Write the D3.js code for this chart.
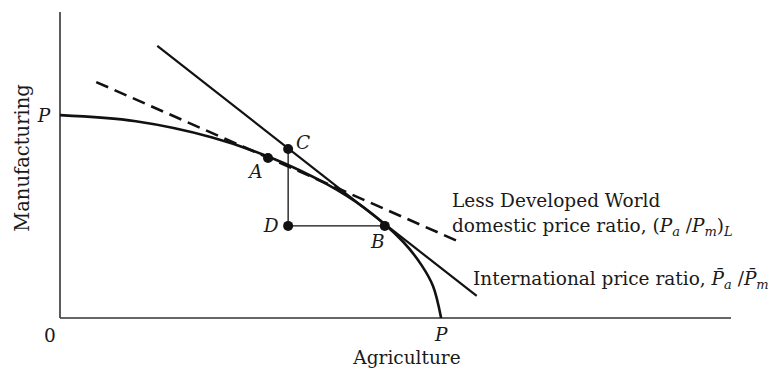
<!DOCTYPE html>
<html><head><meta charset="utf-8">
<script src="https://cdn.jsdelivr.net/npm/d3@7"></script>
<style>body{margin:0;background:#fff}svg text{font-family:"DejaVu Serif",serif;fill:#1a1a1a}</style>
</head><body><svg id="c" width="776" height="369"></svg>
<script>
// data (0-100 units on both axes)
const ppfX = [0, 11.3, 22.7, 31.2, 39.7, 45.4, 51.1, 53.9, 55.6, 56.8];
const ppfY = [66.3, 64.3, 59.0, 52.6, 43.8, 35.9, 25.0, 17.2, 10.4, 0];
const intlX = [14.5, 62.1];
const intlY = [88.9, 7.2];
const domX = [5.4, 59.6];
const domY = [77.1, 24.8];
const ptNames = ["A", "C", "D", "B"];
const ptX = [31.0, 34.0, 34.0, 48.4];
const ptY = [52.3, 55.2, 30.1, 30.1];

const FS = 18.5, SUB = 13;
const svg = d3.select("#c");
const x = d3.scaleLinear().domain([0, 100]).range([60, 731]);
const y = d3.scaleLinear().domain([0, 100]).range([318, 12]);
const line = d3.line().x(d => x(d[0])).y(d => y(d[1]));

// axes
svg.append("line").attr("x1", x(0)).attr("x2", x(100)).attr("y1", y(0)).attr("y2", y(0)).attr("stroke", "#333").attr("stroke-width", 1.6);
svg.append("line").attr("x1", x(0)).attr("x2", x(0)).attr("y1", y(0)).attr("y2", y(100)).attr("stroke", "#333").attr("stroke-width", 1.6);

// PPF
const ppf = ppfX.map((v, i) => [v, ppfY[i]]);
svg.append("path").attr("d", d3.line().x(d => x(d[0])).y(d => y(d[1])).curve(d3.curveCatmullRom)(ppf))
  .attr("fill", "none").attr("stroke", "#111").attr("stroke-width", 2.6);

// international price line
svg.append("path").attr("d", line(intlX.map((v, i) => [v, intlY[i]]))).attr("stroke", "#111").attr("stroke-width", 2.2).attr("fill", "none");
// domestic dashed
svg.append("path").attr("d", line(domX.map((v, i) => [v, domY[i]]))).attr("stroke", "#111").attr("stroke-width", 2.6).attr("stroke-dasharray", "13,7").attr("fill", "none");

// triangle C-D-B
const P = {}; ptNames.forEach((n, i) => P[n] = [ptX[i], ptY[i]]);
svg.append("path").attr("d", line([P.C, P.D, P.B])).attr("fill", "none").attr("stroke", "#111").attr("stroke-width", 1.3);

svg.selectAll("circle.pt").data(ptNames).enter().append("circle").attr("class", "pt")
  .attr("cx", d => x(P[d][0])).attr("cy", d => y(P[d][1])).attr("r", 5).attr("fill", "#111");

// point labels
const lab = {A: [-12, 14], C: [15, -7], D: [-17, 0], B: [-7, 16]};
ptNames.forEach(n => {
  svg.append("text").attr("x", x(P[n][0]) + lab[n][0]).attr("y", y(P[n][1]) + lab[n][1])
    .attr("text-anchor", "middle").attr("dominant-baseline", "central")
    .attr("font-style", "italic").attr("font-size", FS).text(n);
});

// axis labels
svg.append("text").attr("x", 44).attr("y", y(66.3)).attr("text-anchor", "middle").attr("dominant-baseline", "central").attr("font-style", "italic").attr("font-size", FS).text("P");
svg.append("text").attr("x", x(56.8)).attr("y", 334).attr("text-anchor", "middle").attr("dominant-baseline", "central").attr("font-style", "italic").attr("font-size", FS).text("P");
svg.append("text").attr("x", 50).attr("y", 335).attr("text-anchor", "middle").attr("dominant-baseline", "central").attr("font-size", FS).text("0");
svg.append("text").attr("x", 407).attr("y", 364).attr("text-anchor", "middle").attr("font-size", FS).text("Agriculture");
svg.append("text").attr("transform", "translate(29,158) rotate(-90)").attr("text-anchor", "middle").attr("font-size", 19.5).text("Manufacturing");

// line labels
svg.append("text").attr("x", 452).attr("y", 207).attr("font-size", FS).text("Less Developed World");
const t2 = svg.append("text").attr("x", 452).attr("y", 232).attr("font-size", FS);
t2.append("tspan").text("domestic price ratio, (");
t2.append("tspan").attr("font-style", "italic").text("P");
t2.append("tspan").attr("font-style", "italic").attr("font-size", SUB).attr("dy", 4).text("a");
t2.append("tspan").attr("dy", -4).text(" /");
t2.append("tspan").attr("font-style", "italic").text("P");
t2.append("tspan").attr("font-style", "italic").attr("font-size", SUB).attr("dy", 4).text("m");
t2.append("tspan").attr("dy", -4).text(")");
t2.append("tspan").attr("font-style", "italic").attr("font-size", SUB).attr("dy", 4).text("L");

const t3 = svg.append("text").attr("x", 473).attr("y", 285).attr("font-size", FS);
t3.append("tspan").text("International price ratio, ");
t3.append("tspan").attr("font-style", "italic").text("P\u0304");
t3.append("tspan").attr("font-style", "italic").attr("font-size", SUB).attr("dy", 4).text("a");
t3.append("tspan").attr("dy", -4).text(" /");
t3.append("tspan").attr("font-style", "italic").text("P\u0304");
t3.append("tspan").attr("font-style", "italic").attr("font-size", SUB).attr("dy", 4).text("m");
</script></body></html>
